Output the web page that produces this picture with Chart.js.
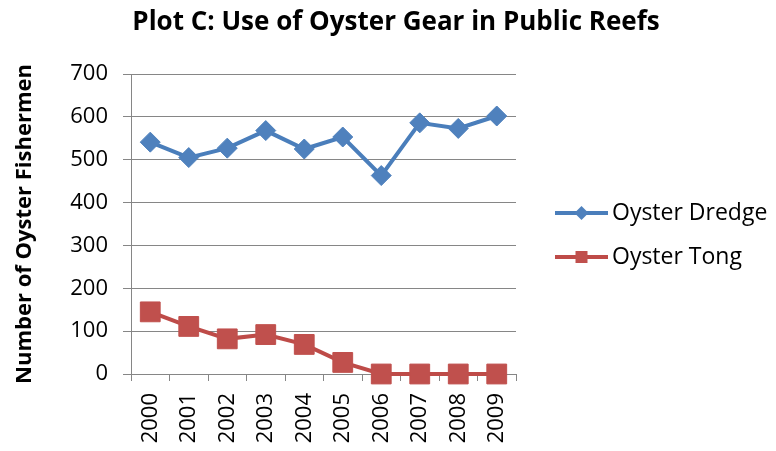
<!DOCTYPE html>
<html lang="en">
<head>
    <meta charset="UTF-8">
    <title>Plot C</title>
    <script src="https://cdn.jsdelivr.net/npm/chart.js"></script>
    <style>
        html, body { margin: 0; padding: 0; background: #fff; }
        .chart-box { width: 776px; height: 451px; }
    </style>
</head>
<body>
    <div class="chart-box">
        <canvas id="gearChart"></canvas>
    </div>

    <script>
        const chartTitle = 'Plot C: Use of Oyster Gear in Public Reefs';
        const years = ['2000', '2001', '2002', '2003', '2004', '2005', '2006', '2007', '2008', '2009'];
        const dredge = [541, 505, 527, 568, 525, 553, 463, 586, 573, 602];
        const tong = [145, 111, 82, 92, 69, 27, 0, 0, 0, 0];
        const yTicks = [0, 100, 200, 300, 400, 500, 600, 700];

        const gridGray = '#868686';
        const font = "'Open Sans', 'Noto Sans', sans-serif";

        // title centred on the whole canvas, legend drawn by hand (line + marker like Excel)
        const titleAndLegend = {
            id: 'titleAndLegend',
            afterDraw(chart) {
                const ctx = chart.ctx;
                const area = chart.chartArea;

                ctx.save();
                ctx.fillStyle = '#000';
                ctx.font = 'bold 26px ' + font;
                ctx.textAlign = 'center';
                ctx.textBaseline = 'middle';
                ctx.fillText(chartTitle, 396, 23);
                ctx.restore();

                const x0 = area.right + 39;
                const x1 = x0 + 53;
                const mid = (x0 + x1) / 2;
                const yStart = (area.top + area.bottom) / 2 - 11;
                chart.data.datasets.forEach((ds, i) => {
                    const y = yStart + i * 44;
                    ctx.save();
                    ctx.strokeStyle = ds.borderColor;
                    ctx.lineWidth = 4;
                    ctx.beginPath();
                    ctx.moveTo(x0, y);
                    ctx.lineTo(x1, y);
                    ctx.stroke();
                    ctx.fillStyle = ds.pointBackgroundColor;
                    ctx.beginPath();
                    if (ds.pointStyle === 'rectRot') {
                        ctx.moveTo(mid - 7, y);
                        ctx.lineTo(mid, y - 7);
                        ctx.lineTo(mid + 7, y);
                        ctx.lineTo(mid, y + 7);
                        ctx.closePath();
                    } else {
                        ctx.rect(mid - 6, y - 6, 12, 12);
                    }
                    ctx.fill();
                    ctx.fillStyle = '#000';
                    ctx.font = '23px ' + font;
                    ctx.textBaseline = 'middle';
                    ctx.textAlign = 'left';
                    ctx.fillText(ds.label, x1 + 4, y);
                    ctx.restore();
                });
            }
        };

        const ctx = document.getElementById('gearChart').getContext('2d');
        const gearChart = new Chart(ctx, {
            type: 'line',
            data: {
                labels: years,
                datasets: [{
                    label: 'Oyster Dredge',
                    data: dredge,
                    borderColor: '#4A7EBB',
                    borderWidth: 4,
                    pointStyle: 'rectRot',
                    pointRadius: 10,
                    pointHoverRadius: 10,
                    pointBackgroundColor: '#4F81BD',
                    pointBorderColor: '#4F81BD',
                    pointBorderWidth: 1,
                    tension: 0,
                    clip: false
                }, {
                    label: 'Oyster Tong',
                    data: tong,
                    borderColor: '#BE4B48',
                    borderWidth: 4,
                    pointStyle: 'rect',
                    pointRadius: 14,
                    pointHoverRadius: 14,
                    pointBackgroundColor: '#C0504D',
                    pointBorderColor: '#C0504D',
                    pointBorderWidth: 1,
                    tension: 0,
                    clip: false
                }]
            },
            options: {
                responsive: true,
                maintainAspectRatio: false,
                animation: false,
                layout: {
                    padding: { left: 10, right: 260, top: 74, bottom: 0 }
                },
                plugins: {
                    legend: { display: false },
                    tooltip: { enabled: false },
                    title: { display: false }
                },
                scales: {
                    x: {
                        offset: true,
                        grid: {
                            offset: true,
                            drawOnChartArea: false,
                            color: gridGray,
                            tickLength: 7
                        },
                        border: { color: gridGray },
                        ticks: {
                            color: '#000',
                            font: { family: font, size: 22 },
                            minRotation: 90,
                            maxRotation: 90,
                            padding: 12
                        },
                        afterFit: s => { s.height = 77; }
                    },
                    y: {
                        min: 0,
                        max: 700,
                        afterBuildTicks: s => { s.ticks = yTicks.map(v => ({ value: v })); },
                        grid: { color: gridGray, tickLength: 8 },
                        border: { color: gridGray },
                        ticks: {
                            color: '#000',
                            font: { family: font, size: 22 },
                            padding: 15
                        },
                        title: {
                            display: true,
                            text: 'Number of Oyster Fishermen',
                            color: '#000',
                            font: { family: font, size: 22, weight: 'bold' },
                            padding: { top: 2, bottom: 0 }
                        },
                        afterFit: s => { s.width = 121; }
                    }
                }
            },
            plugins: [titleAndLegend]
        });
    </script>
</body>
</html>
